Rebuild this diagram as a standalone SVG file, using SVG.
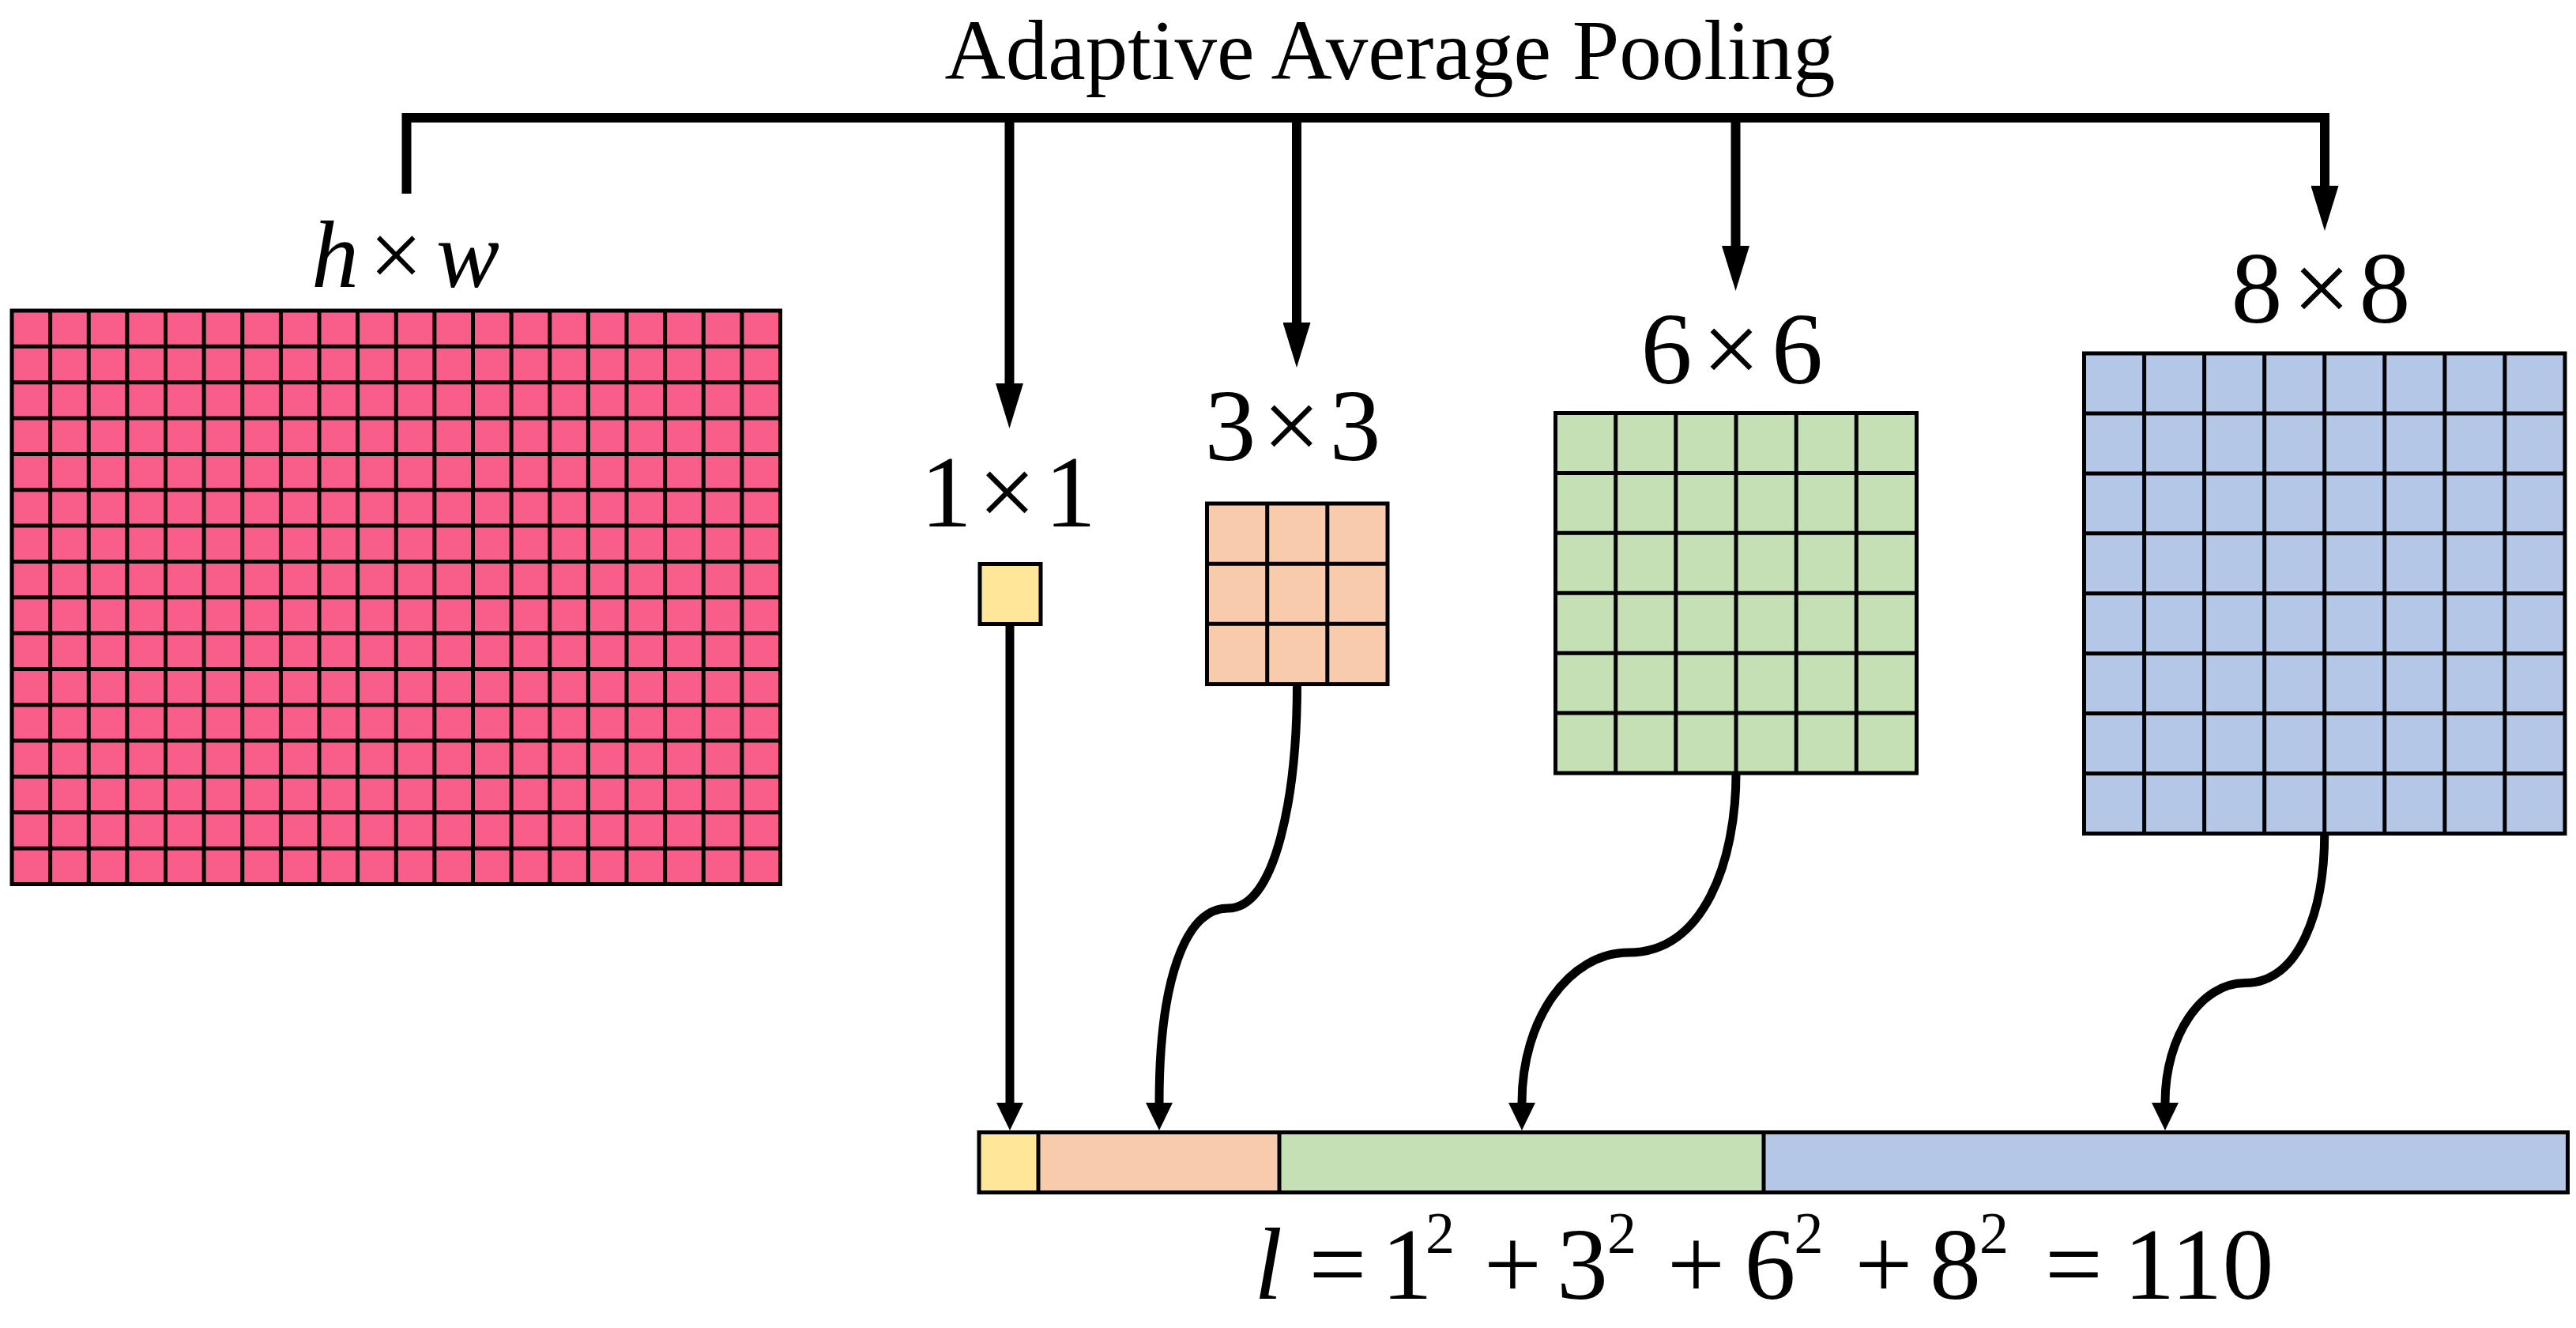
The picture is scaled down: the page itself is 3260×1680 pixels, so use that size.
<svg xmlns="http://www.w3.org/2000/svg" width="3260" height="1680" viewBox="0 0 3260 1680">
<style>
text{fill:#000;font-family:"Liberation Serif","Times New Roman",serif}
.t{font-size:107px}
.lb{font-size:130px;text-anchor:middle}
.hw{font-size:120px;text-anchor:middle}
.eq{font-size:130px;text-anchor:middle}
.sp{font-size:74px}
.it{font-style:italic}
.g{stroke:#000;stroke-width:5;fill:none}
.gb{stroke:#000;stroke-width:5}
.c{stroke:#000;fill:none;stroke-linejoin:miter;stroke-linecap:butt}
.top{stroke-width:12}
.bot{stroke-width:11}
</style>
<defs>
<marker id="aL" markerUnits="userSpaceOnUse" markerWidth="57" markerHeight="35" refX="0" refY="17.5" orient="auto"><path d="M0,0 L57,17.5 L0,35 Z" fill="#000"/></marker>
<marker id="aS" markerUnits="userSpaceOnUse" markerWidth="35" markerHeight="34" refX="0" refY="17" orient="auto"><path d="M0,0 L35,17 L0,34 Z" fill="#000"/></marker>
</defs>
<rect width="3260" height="1680" fill="#fff"/>
<text id="title" class="t" x="1759" y="100" text-anchor="middle">Adaptive Average Pooling</text>
<g id="input">
<rect class="gb" x="15" y="393" width="972.5" height="725.5" fill="#F95E8B"/>
<path class="g" d="M63.6,393V1118.5M112.25,393V1118.5M160.9,393V1118.5M209.5,393V1118.5M258.1,393V1118.5M306.75,393V1118.5M355.4,393V1118.5M404,393V1118.5M452.6,393V1118.5M501.25,393V1118.5M549.9,393V1118.5M598.5,393V1118.5M647.1,393V1118.5M695.75,393V1118.5M744.4,393V1118.5M793,393V1118.5M841.6,393V1118.5M890.25,393V1118.5M938.9,393V1118.5M15,438.3H987.5M15,483.7H987.5M15,529H987.5M15,574.4H987.5M15,619.7H987.5M15,665.1H987.5M15,710.4H987.5M15,755.75H987.5M15,801.1H987.5M15,846.4H987.5M15,891.8H987.5M15,937.1H987.5M15,982.5H987.5M15,1027.8H987.5M15,1073.2H987.5"/>
<text class="hw" y="363"><tspan class="it" x="424">h</tspan><tspan x="501">×</tspan><tspan class="it" x="592">w</tspan></text>
</g>
<g id="p1">
<rect class="gb" x="1240" y="713.5" width="77" height="76" fill="#FFE699"/>
<text class="lb" y="666"><tspan x="1197.5">1</tspan><tspan x="1274.5">×</tspan><tspan x="1354.5">1</tspan></text>
</g>
<g id="p3">
<rect class="gb" x="1527.5" y="637" width="228.5" height="228.5" fill="#F8CBAD"/>
<path class="g" d="M1603.7,637V865.5M1679.8,637V865.5M1527.5,713.2H1756M1527.5,789.3H1756"/>
<text class="lb" y="582"><tspan x="1557">3</tspan><tspan x="1634.5">×</tspan><tspan x="1715">3</tspan></text>
</g>
<g id="p6">
<rect class="gb" x="1968.5" y="522.5" width="457" height="455.5" fill="#C5E0B4"/>
<path class="g" d="M2044.7,522.5V978M2120.8,522.5V978M2197,522.5V978M2273.2,522.5V978M2349.3,522.5V978M1968.5,598.4H2425.5M1968.5,674.3H2425.5M1968.5,750.3H2425.5M1968.5,826.2H2425.5M1968.5,902.1H2425.5"/>
<text class="lb" y="485"><tspan x="2109">6</tspan><tspan x="2191">×</tspan><tspan x="2274.5">6</tspan></text>
</g>
<g id="p8">
<rect class="gb" x="2637.5" y="447" width="608.5" height="607.5" fill="#B4C7E7"/>
<path class="g" d="M2713.6,447V1054.5M2789.6,447V1054.5M2865.7,447V1054.5M2941.75,447V1054.5M3017.8,447V1054.5M3093.9,447V1054.5M3169.9,447V1054.5M2637.5,522.9H3246M2637.5,598.9H3246M2637.5,674.8H3246M2637.5,750.75H3246M2637.5,826.7H3246M2637.5,902.6H3246M2637.5,978.6H3246"/>
<text class="lb" y="408"><tspan x="2856">8</tspan><tspan x="2938">×</tspan><tspan x="3018">8</tspan></text>
</g>
<g id="vector">
<rect x="1239" y="1432.5" width="75" height="76" fill="#FFE699"/>
<rect x="1314" y="1432.5" width="305" height="76" fill="#F8CBAD"/>
<rect x="1619" y="1432.5" width="613" height="76" fill="#C5E0B4"/>
<rect x="2232" y="1432.5" width="1017.5" height="76" fill="#B4C7E7"/>
<rect class="g" x="1239" y="1432.5" width="2010.5" height="76"/>
<path class="g" d="M1314,1432.5V1508.5M1619,1432.5V1508.5M2232,1432.5V1508.5"/>
<text class="eq" y="1643"><tspan class="it" x="1605" y="1643">l</tspan><tspan x="1693" y="1643">=</tspan><tspan x="1780.5" y="1643">1</tspan><tspan class="sp" x="1822.5" y="1585">2</tspan><tspan x="1914.5" y="1643">+</tspan><tspan x="2002.5" y="1643">3</tspan><tspan class="sp" x="2052.5" y="1585">2</tspan><tspan x="2146.5" y="1643">+</tspan><tspan x="2240" y="1643">6</tspan><tspan class="sp" x="2289" y="1585">2</tspan><tspan x="2384" y="1643">+</tspan><tspan x="2474.5" y="1643">8</tspan><tspan class="sp" x="2523.5" y="1585">2</tspan><tspan x="2624.5" y="1643">=</tspan><tspan x="2782.5" y="1643">110</tspan></text>
</g>
<g id="connectors">
<path class="c top" d="M514.5,245V149H2942V235" marker-end="url(#aL)"/>
<path class="c top" d="M1277.5,149V485" marker-end="url(#aL)"/>
<path class="c top" d="M1641,149V408" marker-end="url(#aL)"/>
<path class="c top" d="M2196.5,149V311" marker-end="url(#aL)"/>
<path class="c bot" d="M1278,789.5V1395" marker-end="url(#aS)"/>
<path class="c bot" d="M1641.5,865.5C1641.5,1005 1615,1149 1554,1149C1500,1149 1467,1240 1467,1395" marker-end="url(#aS)"/>
<path class="c bot" d="M2197,978C2197,1090 2156,1205 2061.5,1205C1985,1205 1926,1290 1926,1395" marker-end="url(#aS)"/>
<path class="c bot" d="M2941.75,1054.5C2941.75,1150 2911,1243.5 2841,1243.5C2786,1243.5 2740,1310 2740,1395" marker-end="url(#aS)"/>
</g>
</svg>
